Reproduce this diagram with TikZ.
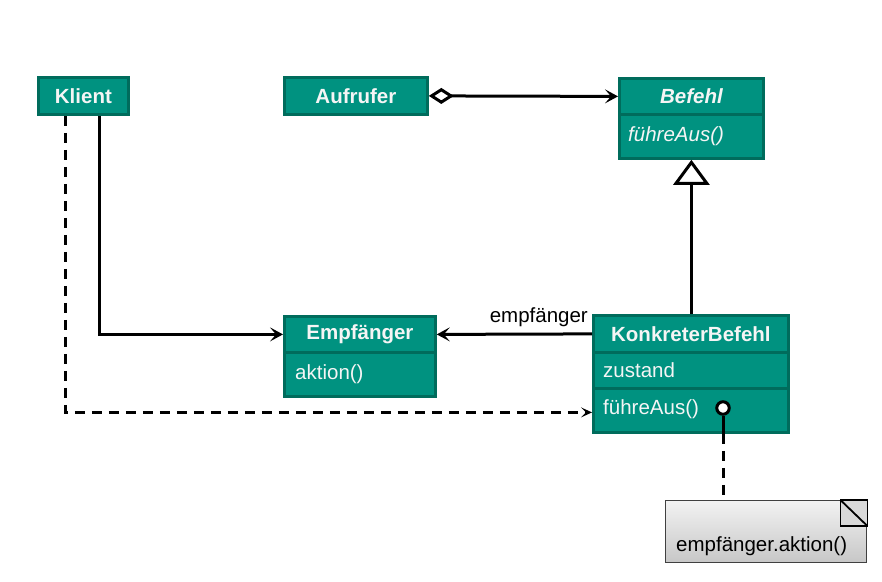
\documentclass[tikz,border=0pt]{standalone}
\usepackage{fontspec}
\setmainfont{Liberation Sans}
\usetikzlibrary{arrows.meta,calc,positioning}
\definecolor{teal1}{RGB}{0,146,128}
\definecolor{teal2}{RGB}{0,108,92}
\definecolor{txtw}{RGB}{245,245,245}
\begin{document}
\begin{tikzpicture}[x=1pt,y=-1pt,
  box/.style={draw=teal2,fill=teal1,line width=2.8pt,inner sep=0pt,anchor=north west,
    text=txtw,font=\fontsize{20.5}{23}\selectfont},
  hd/.style={box,font=\fontsize{20.5}{23}\selectfont\bfseries},
  lbl/.style={text=txtw,font=\fontsize{20.5}{23}\selectfont,anchor=west,inner sep=0pt},
  conn/.style={line width=3pt,black},
  dsh/.style={line width=3pt,black,dash pattern=on 10pt off 7pt},
  arr/.style={-{Stealth[length=13pt,width=14pt,inset=6pt]}},
]
\useasboundingbox (0,0) rectangle (882,581);

% Klient
\node[hd,minimum width=90pt,minimum height=37pt] (klient) at (37,76) {Klient};
% Aufrufer
\node[hd,minimum width=143pt,minimum height=37pt] (aufrufer) at (283,76) {Aufrufer};
% Befehl
\node[hd,minimum width=144pt,minimum height=36pt,font=\fontsize{20.5}{23}\selectfont\bfseries\itshape] (befehlH) at (618,77) {Befehl};
\node[box,minimum width=144pt,minimum height=44pt] (befehlM) at (618,113) {};
\node[lbl,font=\fontsize{20.5}{23}\selectfont\itshape] (befehlMt) at ([xshift=10pt]befehlM.west) {führeAus()};
% Empfaenger
\node[hd,minimum width=151pt,minimum height=36pt] (empfH) at (283,315) {Empfänger};
\node[box,minimum width=151pt,minimum height=44pt] (empfM) at (283,351) {};
\node[lbl] (empfMt) at ([xshift=12pt]empfM.west) {aktion()};
% KonkreterBefehl
\node[hd,minimum width=195pt,minimum height=37pt] (kbH) at (592,314) {KonkreterBefehl};
\node[box,minimum width=195pt,minimum height=36pt] (kbA) at (592,351) {};
\node[lbl] (kbAt) at ([xshift=11pt]kbA.west) {zustand};
\node[box,minimum width=195pt,minimum height=44pt] (kbM) at (592,387) {};
\node[lbl] (kbMt) at ([xshift=11pt,yshift=1pt]kbM.west) {führeAus()};

% Note
\node[draw=black!75,line width=1.4pt,top color=black!5,bottom color=black!22,
  minimum width=201pt,minimum height=62pt,anchor=north west,inner sep=0pt] (note) at (665,500) {};
\node[anchor=west,inner sep=0pt,font=\fontsize{20.5}{23}\selectfont] (notet) at ([shift={(11,-17)}]note.south west) {empfänger.aktion()};
\draw[line width=1.8pt,fill=black!15] (note.north east) rectangle ([shift={(-27,26)}]note.north east);
\draw[line width=1.8pt] ([xshift=-27pt]note.north east) -- ([yshift=-26pt]note.north east);

% lollipop
\node[circle,draw=black,fill=white,line width=3pt,minimum size=12.5pt,inner sep=0pt] (lolli) at (723,408) {};
\draw[conn] (lolli.south) -- (lolli.south |- kbM.south);
\draw[dsh] (lolli.south |- kbM.south) -- (lolli.south |- note.north);

% connectors
\draw[conn,arr] ([xshift=16pt]klient.south) |- (empfH.west);
\draw[dsh,-{Stealth[length=11pt,width=10pt,inset=5pt]}] ([xshift=-18pt]klient.south) |- ([yshift=-2pt]kbM.west);
\draw[conn,arr] (kbH.west) -- (empfH.east);
\node[anchor=south east,inner sep=0pt,font=\fontsize{20.5}{23}\selectfont] (elab) at ([shift={(-4,-7)}]kbH.west) {empfänger};
\draw[conn,{Diamond[open,length=25pt,width=16pt,line width=3pt]}-{Stealth[length=13pt,width=14pt,inset=6pt]}] (aufrufer.east) -- (befehlH.west);
\draw[conn,-{Triangle[open,length=25pt,width=36pt,line width=3pt]}] (kbH.north -| befehlM.south) -- (befehlM.south);
\end{tikzpicture}
\end{document}
